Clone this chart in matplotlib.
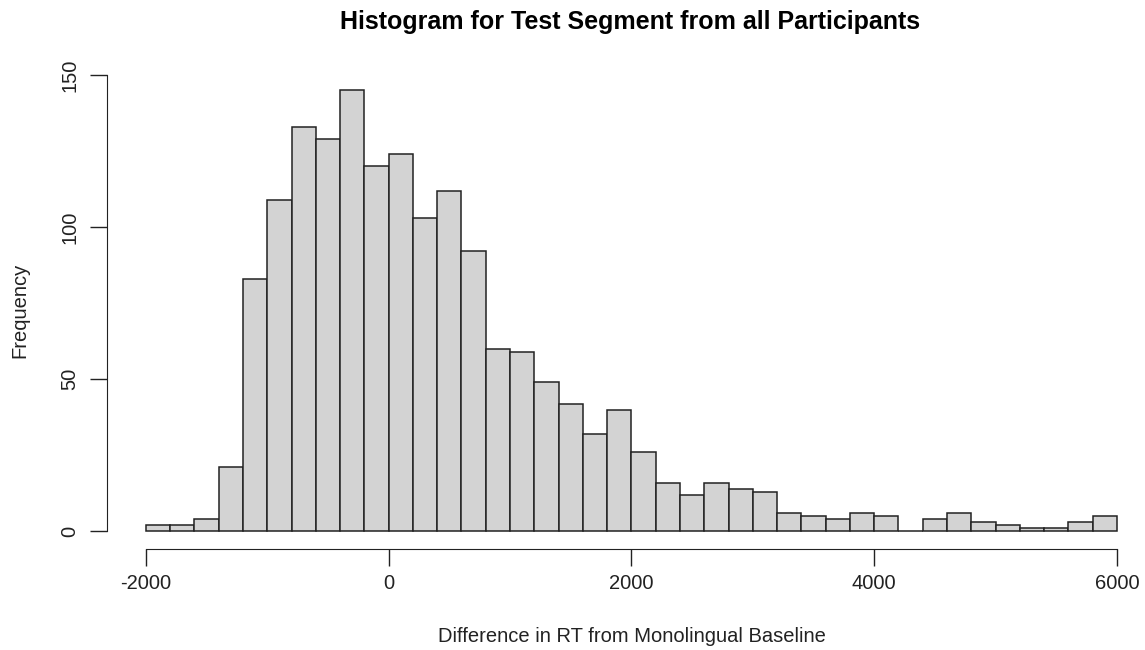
# IMPORT LIBRARIES

import numpy as np
import matplotlib
matplotlib.use("Agg")
import matplotlib.pyplot as plt

# DATA (HISTOGRAM COUNTS, BINS OF 200 FROM -2000 TO 6000)

bin_start = -2000
bin_width = 200
counts = [
    2, 2, 4, 21, 83, 109, 133, 129, 145, 120,
    124, 103, 112, 92, 60, 59, 49, 42, 32, 40,
    26, 16, 12, 16, 14, 13, 6, 5, 4, 6,
    5, 0, 4, 6, 3, 2, 1, 1, 3, 5
]
x_ticks = [-2000, 0, 2000, 4000, 6000]
y_ticks = [0, 50, 100, 150]

title = "Histogram for Test Segment from all Participants"
x_label = "Difference in RT from Monolingual Baseline"
y_label = "Frequency"

# FIGURE

plt.rcParams["font.family"] = ["Liberation Sans", "DejaVu Sans"]

W, H = 1145, 650
fig = plt.figure(figsize=(W / 100, H / 100), dpi=100)

# axes placed in pixel coords (R-like plot region)
left_px, right_px = 107, 1145
top_px, bottom_px = 72.6, 549
ax = fig.add_axes([
    left_px / W,
    1 - bottom_px / H,
    (right_px - left_px) / W,
    (bottom_px - top_px) / H
])

lefts = bin_start + bin_width * np.arange(len(counts))

ax.bar(
    lefts,
    counts,
    width=bin_width,
    align="edge",
    color="#D3D3D3",
    edgecolor="#222222",
    linewidth=1.1
)

ax.set_xlim(-2320, 6231)
ax.set_ylim(-5.8, 150.8)

# R STYLE AXES

for side in ["top", "right"]:
    ax.spines[side].set_visible(False)

ax.spines["left"].set_bounds(0, 150)
ax.spines["bottom"].set_bounds(-2000, 6000)
ax.spines["left"].set_color("#222222")
ax.spines["bottom"].set_color("#222222")

ax.set_xticks(x_ticks)
ax.set_xticklabels([str(t) for t in x_ticks])
ax.set_yticks(y_ticks)
ax.set_yticklabels([str(t) for t in y_ticks], rotation=90, va="center")

ax.tick_params(axis="x", length=12, width=1, colors="#222222",
               labelsize=14.5, pad=6)
ax.tick_params(axis="y", length=12, width=1, colors="#222222",
               labelsize=14.5, pad=8)

# LABELS

fig.text(630.5 / W, 1 - 22 / H, title,
         ha="center", va="center", fontsize=18, fontweight="bold")
fig.text((147 + 1117) / 2 / W, 1 - 637 / H, x_label,
         ha="center", va="center", fontsize=14.5, color="#222222")
fig.text(20 / W, 1 - 310 / H, y_label, rotation=90,
         ha="center", va="center", fontsize=14.5, color="#222222")

fig.savefig("out.png", dpi=100)
